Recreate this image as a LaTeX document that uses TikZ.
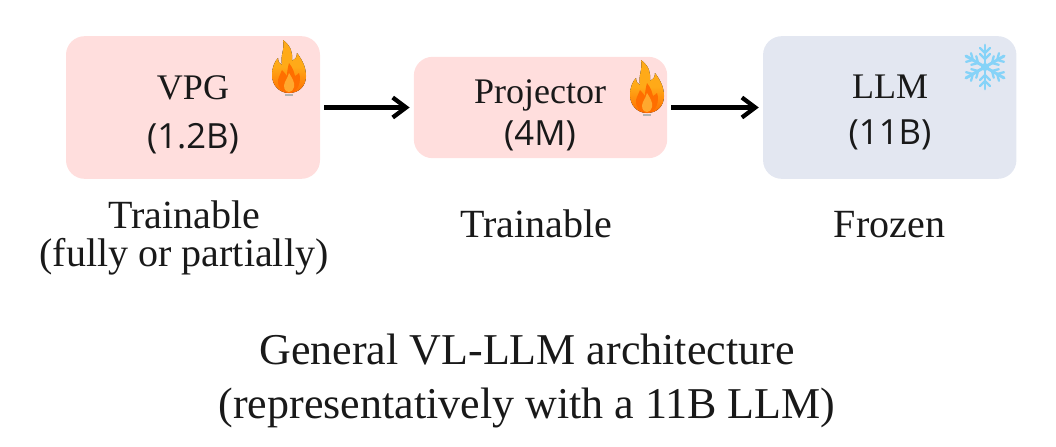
\documentclass[tikz,border=0pt]{standalone}
\usepackage{fontspec}
\setmainfont{Liberation Serif}
\newfontfamily\countfont{Open Sans}
\usetikzlibrary{arrows.meta,positioning,shadings}
\definecolor{softpink}{HTML}{FFDEDD}
\definecolor{softblue}{HTML}{E3E7F1}
\definecolor{flameout}{HTML}{FFAA18}
\definecolor{flamemid}{HTML}{FF6E00}
\definecolor{flamein}{HTML}{FFA82E}
\definecolor{flakeblue}{HTML}{86D3F8}
\newcommand{\sizetext}[1]{{\countfont\fontsize{26}{0}\selectfont #1}}
\tikzset{
  modbox/.style={rounded corners=14pt,inner sep=0pt},
  pinkbox/.style={modbox,fill=softpink},
  bluebox/.style={modbox,fill=softblue},
  boxfont/.style={font=\fontsize{27}{#1}\selectfont,align=center,text=black!90},
  flow/.style={-{Straight Barb[length=10pt,width=15pt,line width=3.2pt]},line width=3.2pt,shorten <=3pt,shorten >=3pt},
  caption/.style={font=\fontsize{30}{28}\selectfont,align=center,text=black!90},
  flame/.pic={
    \fill[top color=flameout,bottom color=flamemid,middle color=flameout]
      (0,26) .. controls (-10,26) and (-17,18) .. (-17,8)
      .. controls (-17,0) and (-14,-6) .. (-11,-9)
      .. controls (-11,-5) and (-9,-3) .. (-7,-2)
      .. controls (-9,-12) and (-4,-17) .. (-6,-27)
      .. controls (2,-21) and (4,-14) .. (3,-6)
      .. controls (6,-7) and (8,-10) .. (8,-14)
      .. controls (14,-6) and (17,1) .. (17,9)
      .. controls (17,19) and (10,26) .. (0,26) -- cycle;
    \fill[flamemid]
      (0,26) .. controls (-7,26) and (-12,20) .. (-11,13)
      .. controls (-10,9) and (-8,6) .. (-7,3)
      .. controls (-4,6) and (-3,8) .. (-2,9)
      .. controls (-2,4) and (-1,0) .. (0,-4)
      .. controls (4,1) and (5,5) .. (6,9)
      .. controls (8,8) and (9,7) .. (10,6)
      .. controls (13,14) and (9,26) .. (0,26) -- cycle;
    \fill[flamein]
      (0,25) .. controls (-5,25) and (-6,19) .. (-4,15)
      .. controls (-2,12) and (-1,9) .. (0,6)
      .. controls (3,11) and (6,15) .. (5,20)
      .. controls (4,23) and (3,25) .. (0,25) -- cycle;
    \fill[black!30] (-4,26.5) rectangle (4,28.5);
  },
  snowflake/.pic={
    \foreach \ang in {30,90,...,330}{
      \begin{scope}[rotate=\ang]
        \draw[flakeblue,line width=2.2pt,line cap=round] (0,0) -- (22,0);
        \draw[flakeblue,line width=1.7pt,line cap=round] (8,0) -- (13,5) (8,0) -- (13,-5);
        \draw[flakeblue,line width=1.7pt,line cap=round] (14,0) -- (19,5) (14,0) -- (19,-5);
      \end{scope}
    }
    \fill[flakeblue] (0,0) circle (4);
  },
}
\begin{document}
\begin{tikzpicture}[x=.75pt,y=-.75pt,node distance=70pt]
  \useasboundingbox (0,0) rectangle (1056,446);
  % three stages, left to right
  \node[pinkbox,minimum width=190.5pt,minimum height=107pt] (vpg) at (193,107.5) {};
  \node[pinkbox,minimum width=190pt,minimum height=76pt,right=of vpg] (proj) {};
  \node[bluebox,minimum width=190pt,minimum height=107pt,right=71.5pt of proj] (llm) {};
  \node[boxfont=37] (vpgtext) at (193,115) {VPG\\\sizetext{(1.2B)}};
  \node[boxfont=31.5] (projtext) at (540,115.5) {Projector\\\sizetext{(4M)}};
  \node[boxfont=34.5] (llmtext) at (890,112.5) {LLM\\\sizetext{(11B)}};
  \draw[flow] (vpg)--(proj); \draw[flow] (proj)--(llm);
  % badges
  \pic at (289,67) {flame};
  \pic at (647,87) {flame};
  \pic at (985,67) {snowflake};
  % labels under the boxes
  \node[caption] (vpgnote) at (184,238) {Trainable\\(fully or partially)};
  \node[caption] (projnote) at (536,224) {Trainable};
  \node[caption] (llmnote) at (889.5,225) {Frozen};
  \node[caption,font=\fontsize{33}{41}\selectfont] (title) at (527,381) {General VL-LLM architecture\\(representatively with a 11B LLM)};
\end{tikzpicture}
\end{document}
